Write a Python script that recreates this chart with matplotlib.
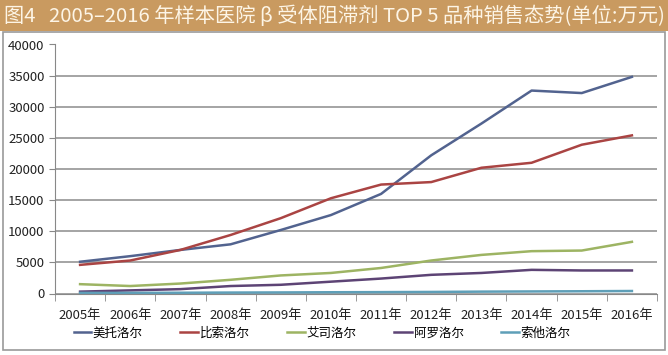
import matplotlib
matplotlib.use("Agg")
import matplotlib.pyplot as plt
from matplotlib.patches import Rectangle

plt.rcParams['font.family'] = ['Noto Sans CJK SC', 'DejaVu Sans']

years = ['2005年', '2006年', '2007年', '2008年', '2009年', '2010年',
         '2011年', '2012年', '2013年', '2014年', '2015年', '2016年']
names = ['美托洛尔', '比索洛尔', '艾司洛尔', '阿罗洛尔', '索他洛尔']
metoprolol = [5100, 6000, 7000, 7900, 10200, 12600, 16000, 22200, 27300, 32600, 32200, 34800]
bisoprolol = [4600, 5300, 7000, 9400, 12100, 15300, 17500, 17900, 20200, 21000, 23900, 25400]
esmolol = [1500, 1200, 1600, 2200, 2900, 3300, 4100, 5300, 6200, 6800, 6900, 8300]
arotinolol = [300, 500, 700, 1200, 1400, 1900, 2400, 3000, 3300, 3800, 3700, 3700]
sotalol = [100, 100, 120, 150, 170, 200, 220, 250, 300, 330, 360, 400]
series = [metoprolol, bisoprolol, esmolol, arotinolol, sotalol]
colors = ['#52638f', '#aa4443', '#9db463', '#5d4475', '#5e9fb8']

fig = plt.figure(figsize=(6.68, 3.55), dpi=100)

# title bar
fig.patches.append(Rectangle((0, 1 - 31 / 355), 1, 31 / 355, transform=fig.transFigure,
                             facecolor='#c99a60', edgecolor='none', zorder=-5))
fig.text(0.006, 1 - 16 / 355, '图4   2005–2016 年样本医院 β 受体阻滞剂 TOP 5 品种销售态势(单位:万元)',
         color='#fdf5e6', fontsize=14.6, va='center', ha='left')
# chart border
fig.patches.append(Rectangle((3 / 668, 5 / 355), 662 / 668, 318 / 355, transform=fig.transFigure,
                             facecolor='white', edgecolor='#9a9a9a', linewidth=1.2, zorder=-5))

ax = fig.add_axes([55 / 668, 1 - 293.5 / 355, 602 / 668, 249 / 355])
ax.set_facecolor('none')
x = list(range(len(years)))
for vals, name, c in zip(series, names, colors):
    ax.plot(x, vals, color=c, linewidth=1.8, label=name)

ax.set_xlim(-0.5, len(years) - 0.5)
ax.set_ylim(0, 40000)
ax.set_yticks(range(0, 40001, 5000))
ax.set_xticks(x)
ax.set_xticklabels(years)
ax.set_xticks([i - 0.5 for i in range(len(years) + 1)], minor=True)
ax.tick_params(axis='x', which='major', length=0, pad=11, labelsize=9.5, colors='#222222')
ax.tick_params(axis='x', which='minor', length=5, color='#888888')
ax.tick_params(axis='y', length=4, color='#888888', labelsize=9.5, labelcolor='#222222')
ax.grid(axis='y', color='#8c8c8c', linewidth=1.1)
ax.set_axisbelow(True)
for s in ['top', 'right']:
    ax.spines[s].set_visible(False)
ax.spines['left'].set_color('#888888')
ax.spines['bottom'].set_color('#888888')

fig.legend(loc='center', bbox_to_anchor=(322 / 668, 1 - 333 / 355), ncol=5, frameon=False,
           fontsize=9, handlelength=1.4, handletextpad=0.15, columnspacing=3.0)

fig.savefig('out.png', dpi=100)
